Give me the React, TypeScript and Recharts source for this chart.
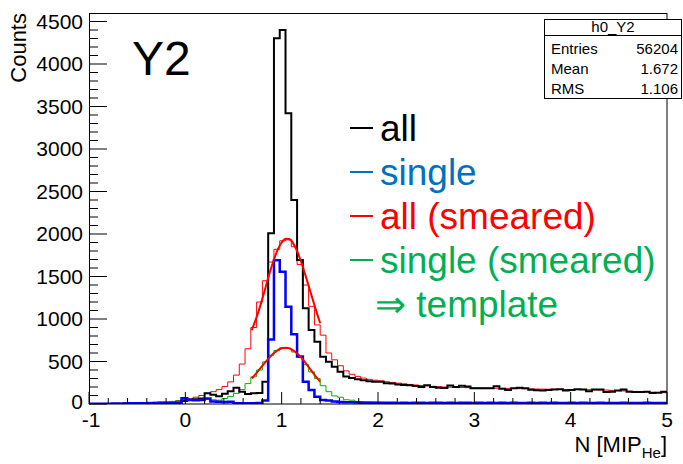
import React from 'react';
import { ComposedChart, Line, XAxis, YAxis } from 'recharts';

// Histogram binning: 100 bins of width 0.06 from -1 to 5
const BIN_LOW = -1;
const BIN_WIDTH = 0.06;

// "all" (black)
const ALL = [
  0, 0, 0, 0, 1, 0, 2, 1, 3, 2,
  4, 5, 6, 8, 12, 15, 35, 50, 55, 65,
  126, 110, 90, 120, 150, 190, 145, 118, 126, 130,
  262, 2008, 4302, 4400, 3420, 2400, 1694, 1126, 870, 733,
  557, 498, 439, 380, 325, 305, 290, 280, 268, 262,
  262, 245, 240, 228, 225, 220, 212, 200, 222, 200,
  190, 188, 218, 200, 215, 205, 185, 186, 184, 186,
  208, 180, 165, 184, 192, 185, 168, 162, 160, 165,
  172, 175, 160, 165, 175, 172, 150, 172, 170, 140,
  145, 160, 170, 145, 140, 142, 145, 130, 132, 145,
];

// "single" (blue)
const SINGLE = [
  3, 2, 4, 3, 5, 4, 6, 8, 10, 8,
  8, 10, 12, 10, 12, 15, 67, 47, 45, 48,
  65, 28, 27, 25, 26, 10, 8, 8, 10, 12,
  40, 760, 1690, 1556, 1145, 822, 560, 262, 165, 86,
  47, 40, 30, 25, 22, 20, 18, 16, 15, 14,
  15, 14, 16, 13, 15, 12, 14, 16, 13, 15,
  14, 12, 15, 13, 14, 16, 12, 14, 13, 15,
  12, 14, 13, 15, 12, 13, 14, 12, 15, 13,
  14, 12, 13, 15, 12, 14, 13, 12, 14, 13,
  12, 13, 14, 12, 13, 12, 14, 13, 12, 13,
];

// "all (smeared)" (thin red)
const ALL_SMEARED = [
  5, 4, 6, 5, 8, 10, 12, 10, 14, 16,
  18, 20, 22, 25, 30, 40, 55, 62, 80, 100,
  125, 145, 170, 205, 260, 340, 470, 650, 900, 1200,
  1450, 1670, 1820, 1920, 1930, 1850, 1640, 1400, 1150, 930,
  810, 600, 520, 450, 390, 350, 325, 305, 290, 280,
  272, 262, 252, 245, 238, 230, 224, 218, 214, 208,
  204, 200, 198, 196, 194, 192, 190, 189, 187, 186,
  185, 184, 183, 182, 181, 180, 178, 176, 175, 174,
  173, 172, 171, 170, 170, 169, 168, 167, 166, 164,
  160, 157, 154, 151, 148, 145, 142, 139, 136, 133,
];

// "single (smeared)" (green)
const SINGLE_SMEARED = [
  4, 5, 6, 7, 8, 10, 12, 14, 16, 18,
  20, 22, 24, 26, 30, 35, 40, 45, 48, 52,
  55, 50, 45, 65, 90, 125, 170, 240, 320, 400,
  495, 575, 630, 662, 652, 612, 552, 462, 378, 300,
  215, 145, 95, 80, 50, 45, 30, 27, 25, 22,
  20, 18, 18, 16, 15, 14, 14, 13, 12, 12,
  11, 11, 10, 10, 10, 9, 9, 9, 8, 8,
  8, 8, 7, 7, 7, 7, 6, 6, 6, 6,
  6, 5, 5, 5, 5, 5, 5, 4, 4, 4,
  4, 4, 4, 4, 3, 3, 3, 3, 3, 3,
];

// fitted curves (thick red)
const FIT_X = [0.69, 0.72, 0.76, 0.8, 0.84, 0.88, 0.92, 0.96, 1.0, 1.04, 1.08, 1.12, 1.16, 1.2, 1.24, 1.28, 1.32, 1.36, 1.4];
const FIT_ALL = [870, 960, 1090, 1240, 1400, 1560, 1700, 1820, 1900, 1945, 1940, 1890, 1800, 1680, 1540, 1390, 1240, 1090, 950];
const FIT_SINGLE = [300, 340, 395, 450, 505, 555, 600, 635, 655, 662, 655, 630, 595, 550, 495, 435, 375, 315, 262];

const X_MAJOR = [-1, 0, 1, 2, 3, 4, 5];
const Y_MAJOR = [0, 500, 1000, 1500, 2000, 2500, 3000, 3500, 4000, 4500];

const STATS = [
  ['Entries', '56204'],
  ['Mean', '1.672'],
  ['RMS', '1.106'],
];

const LEGEND = [
  { label: 'all', color: '#000000' },
  { label: 'single', color: '#0070C0' },
  { label: 'all (smeared)', color: '#FF0000' },
  { label: 'single (smeared)', color: '#00B050' },
];

const FONT = '"Liberation Sans", Arial, Helvetica, sans-serif';

// table for the step lines; last row closes the final bin
const histRows = ALL.map((_, i) => ({
  x: +(BIN_LOW + i * BIN_WIDTH).toFixed(2),
  all: ALL[i],
  single: SINGLE[i],
  allSm: ALL_SMEARED[i],
  singleSm: SINGLE_SMEARED[i],
}));
histRows.push({ ...histRows[histRows.length - 1], x: 5 });

const fitAllRows = FIT_X.map((x, i) => ({ x, fit: FIT_ALL[i] }));
const fitSingleRows = FIT_X.map((x, i) => ({ x, fit: FIT_SINGLE[i] }));

// minor ticks: 0.2 on x, 100 on y
const xTicks: number[] = [];
for (let k = -5; k <= 25; k++) xTicks.push(k / 5);
const yTicks: number[] = [];
for (let k = 0; k <= 45; k++) yTicks.push(k * 100);

const XTick = (props: any) => {
  const { x, y, payload } = props;
  const v = payload.value;
  const major = X_MAJOR.some((m) => Math.abs(m - v) < 1e-6);
  return (
    <g>
      <line x1={x} x2={x} y1={y} y2={y - (major ? 12 : 6)} stroke="#000" strokeWidth={1} />
      {major && (
        <text x={x + (v < 0 ? 2 : 0)} y={y + 23} textAnchor="middle" fontSize={21} fontFamily={FONT} fill="#000">
          {Math.round(v)}
        </text>
      )}
    </g>
  );
};

const YTick = (props: any) => {
  const { x, y, payload } = props;
  const v = payload.value;
  const major = Y_MAJOR.includes(v);
  return (
    <g>
      <line x1={x} x2={x + (major ? 18 : 9)} y1={y} y2={y} stroke="#000" strokeWidth={1} />
      {major && (
        <text x={x - 6} y={y + (v === 0 ? 5 : 7)} textAnchor="end" fontSize={21} fontFamily={FONT} fill="#000">
          {v}
        </text>
      )}
    </g>
  );
};

export default function App() {
  return (
    <div style={{ position: 'absolute', left: 0, top: 0, width: 683, height: 464, background: '#fff' }}>
      <ComposedChart
        width={683}
        height={464}
        data={histRows}
        margin={{ top: 13, right: 16, bottom: 30, left: 29 }}
      >
        <XAxis
          dataKey="x"
          type="number"
          domain={[-1, 5]}
          ticks={xTicks}
          interval={0}
          tickSize={0}
          tickMargin={0}
          axisLine={false}
          tickLine={false}
          tick={<XTick />}
          allowDataOverflow
        />
        <YAxis
          type="number"
          domain={[0, 4600]}
          ticks={yTicks}
          interval={0}
          tickSize={0}
          tickMargin={0}
          axisLine={false}
          tickLine={false}
          tick={<YTick />}
          allowDataOverflow
        />
        <Line type="stepAfter" dataKey="allSm" stroke="#FF0000" strokeWidth={1} dot={false} isAnimationActive={false} />
        <Line type="stepAfter" dataKey="singleSm" stroke="#00B000" strokeWidth={1} dot={false} isAnimationActive={false} />
        <Line type="stepAfter" dataKey="all" stroke="#000000" strokeWidth={2} dot={false} isAnimationActive={false} />
        <Line type="stepAfter" dataKey="single" stroke="#0000FF" strokeWidth={2.5} dot={false} isAnimationActive={false} />
        <Line data={fitAllRows} type="monotone" dataKey="fit" stroke="#FF0000" strokeWidth={2} dot={false} isAnimationActive={false} />
        <Line data={fitSingleRows} type="monotone" dataKey="fit" stroke="#FF0000" strokeWidth={2} dot={false} isAnimationActive={false} />
      </ComposedChart>

      <svg
        width={683}
        height={464}
        style={{ position: 'absolute', left: 0, top: 0, pointerEvents: 'none' }}
        fontFamily={FONT}
      >
        {/* frame */}
        <rect x={89.5} y={13.5} width={577.5} height={390.5} fill="none" stroke="#000" strokeWidth={1} />

        {/* stats box */}
        <rect x={544.5} y={19.5} width={137} height={79} fill="#fff" stroke="#000" strokeWidth={1} />
        <line x1={544.5} x2={681.5} y1={35.5} y2={35.5} stroke="#000" strokeWidth={1} />
        <text x={613} y={32} textAnchor="middle" fontSize={15}>h0_Y2</text>
        {STATS.map(([k, v], i) => (
          <g key={k}>
            <text x={551} y={53.5 + i * 20} fontSize={15}>{k}</text>
            <text x={678} y={53.5 + i * 20} fontSize={15} textAnchor="end">{v}</text>
          </g>
        ))}

        {/* panel label */}
        <text x={132} y={75} fontSize={48}>Y2</text>

        {/* axis titles */}
        <text transform="translate(26,13) rotate(-90)" textAnchor="end" fontSize={22}>Counts</text>
        <text x={667} y={452} textAnchor="end" fontSize={22}>
          <tspan>N [MIP</tspan>
          <tspan fontSize={15} dy={6}>He</tspan>
          <tspan dy={-6}>]</tspan>
        </text>

        {/* legend */}
        {LEGEND.map((l, i) => (
          <g key={l.label}>
            <line x1={350} x2={373} y1={128 + i * 44} y2={128 + i * 44} stroke={l.color} strokeWidth={2} />
            <text x={380} y={141 + i * 44} fontSize={37} fill={l.color}>{l.label}</text>
          </g>
        ))}
        <text x={375} y={317} fontSize={37} fill="#00B050">⇒ template</text>
      </svg>
    </div>
  );
}
